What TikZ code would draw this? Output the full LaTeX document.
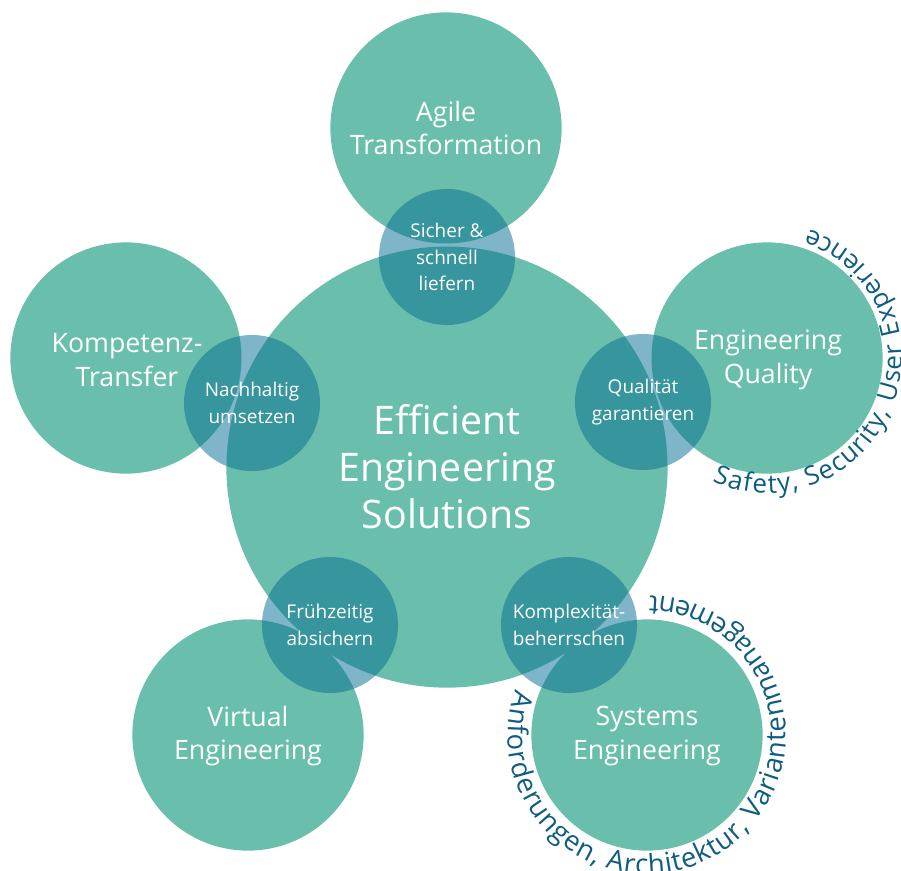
\documentclass[tikz,border=0pt]{standalone}
\usepackage{fontspec}
\setmainfont{Open Sans}
\usetikzlibrary{decorations.text}
\definecolor{fgreen}{HTML}{69BFAB}
\definecolor{fteal}{HTML}{37959E}
\definecolor{flight}{HTML}{7FB5C8}
\definecolor{fblue}{HTML}{0E5C80}

\begin{document}
\begin{tikzpicture}[x=0.025cm, y=0.025cm,
    bigc/.style={circle, fill=fgreen, inner sep=0pt, minimum size=5.78cm},
    smallc/.style={circle, fill=flight, inner sep=0pt, minimum size=3.4cm},
    overlap/.style={path picture={\fill[fteal] (core.center) circle[radius=220.5] (#1.center) circle[radius=115.5];}},
    biglabel/.style={align=center, text=white, font=\fontsize{19}{23.8}\selectfont},
    smalllabel/.style={align=center, text=white, font=\fontsize{13.5}{18.9}\selectfont},
    arctext/.style={decorate, decoration={text along path, text align={fit to path}, text={#1}}}]
    \useasboundingbox (0,0) rectangle (901,-870);
    \node[bigc] (agile) at (446,-128) {};
    \node[bigc] (quality) at (767,-358) {};
    \node[bigc] (systems) at (647,-735) {};
    \node[bigc] (virtual) at (248,-735) {};
    \node[bigc] (transfer) at (126,-358) {};
    \node[circle, fill=fgreen, inner sep=0pt, minimum size=11.03cm] (core) at (447,-467) {};
    \node[smallc, overlap=agile] (sicher) at (447,-257) {};
    \node[smallc, overlap=quality] (qualitaet) at (643,-402) {};
    \node[smallc, overlap=systems] (komplex) at (569,-625) {};
    \node[smallc, overlap=virtual] (frueh) at (330,-625) {};
    \node[smallc, overlap=transfer] (nachhaltig) at (252,-403) {};
    \node[biglabel, font=\fontsize{28}{33.5}\selectfont] (coretxt) at (core) {Efficient\\Engineering\\Solutions};
    \node[biglabel] (agiletxt) at (agile) {Agile\\Transformation};
    \node[biglabel] (qualitytxt) at (768,-360) {Engineering\\Quality};
    \node[biglabel] (systemstxt) at (647,-736) {Systems\\Engineering};
    \node[biglabel] (virtualtxt) at (248,-736) {Virtual\\Engineering};
    \node[biglabel] (transfertxt) at (127,-360) {Kompetenz-\\Transfer};
    \node[smalllabel] (sichertxt) at (sicher) {Sicher \&\\schnell\\liefern};
    \node[smalllabel] (qualitaettxt) at (qualitaet) {Qualität\\garantieren};
    \node[smalllabel] (komplextxt) at (komplex) {Komplexität-\\beherrschen};
    \node[smalllabel] (fruehtxt) at (frueh) {Frühzeitig\\absichern};
    \node[smalllabel] (nachhaltigtxt) at (nachhaltig) {Nachhaltig\\umsetzen};
    \path[arctext={|\fontsize{18.5}{18.5}\selectfont\color{fblue}|Safety, Security, User Experience}]
        ([shift={(246:135)}]quality.center) arc[start angle=246, end angle=432, radius=135];
    \path[arctext={|\fontsize{19.5}{19.5}\selectfont\color{fblue}|Anforderungen, Architektur, Variantenmanagement}]
        ([shift={(161:139)}]systems.center) arc[start angle=161, end angle=449, radius=139];
\end{tikzpicture}
\end{document}
